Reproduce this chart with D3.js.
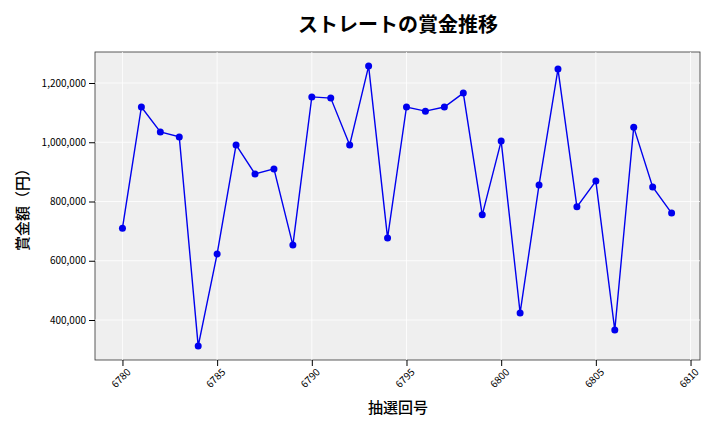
<!DOCTYPE html>
<html><head><meta charset="utf-8">
<script src="https://cdn.jsdelivr.net/npm/d3@7"></script>
<style>body{margin:0;background:#fff}text{font-family:"Noto Sans CJK JP","Noto Sans",sans-serif}</style>
</head><body><svg id="c" width="720" height="432"></svg>
<script>
const draws = d3.range(6780, 6810);
const prizes = [710000,1119000,1035000,1018000,312000,623000,991000,893000,910000,653000,
  1153000,1149000,991000,1257000,677000,1119000,1105000,1119000,1166000,755000,
  1004000,424000,856000,1247000,782000,869000,366000,1051000,849000,761000];
const xTicks = [6780,6785,6790,6795,6800,6805,6810];
const yTicks = [400000,600000,800000,1000000,1200000];

const m = {l:95, r:700, t:52, b:360};
const svg = d3.select("#c");
const x = d3.scaleLinear().domain([6778.55, 6810.5]).range([m.l, m.r]);
const y = d3.scaleLinear().domain([1200000, 400000]).range([83, 320]);

svg.append("rect").attr("x", m.l).attr("y", m.t).attr("width", m.r-m.l).attr("height", m.b-m.t)
  .attr("fill", "#efefef").attr("stroke", "#333").attr("stroke-width", 0.8);

const grid = svg.append("g").attr("stroke", "#fff").attr("stroke-width", 0.8);
xTicks.forEach(t => grid.append("line").attr("x1", x(t)).attr("x2", x(t)).attr("y1", m.t).attr("y2", m.b));
yTicks.forEach(t => grid.append("line").attr("x1", m.l).attr("x2", m.r).attr("y1", y(t)).attr("y2", y(t)));

const xa = svg.append("g").attr("transform", `translate(0,${m.b})`)
  .call(d3.axisBottom(x).tickValues(xTicks).tickFormat(d3.format("d")).tickSizeOuter(0));
xa.select(".domain").remove();
xa.selectAll("text").attr("font-size", 10).attr("text-anchor", "end")
  .attr("transform", "rotate(-45)").attr("dx", "-0.3em").attr("dy", "0.6em");

const ya = svg.append("g").attr("transform", `translate(${m.l},0)`)
  .call(d3.axisLeft(y).tickValues(yTicks).tickFormat(d3.format(",")).tickSizeOuter(0));
ya.select(".domain").remove();
ya.selectAll("text").attr("font-size", 10);

svg.append("path").datum(d3.zip(draws, prizes)).attr("fill", "none").attr("stroke", "#0000ee")
  .attr("stroke-width", 1.4).attr("d", d3.line().x(d => x(d[0])).y(d => y(d[1])));
svg.selectAll("circle.p").data(d3.zip(draws, prizes)).join("circle")
  .attr("cx", d => x(d[0])).attr("cy", d => y(d[1])).attr("r", 3.5).attr("fill", "#0000ee");

svg.append("text").attr("x", 398).attr("y", 32).attr("text-anchor", "middle")
  .attr("font-size", 20).attr("font-weight", "bold").text("ストレートの賞金推移");
svg.append("text").attr("x", 398).attr("y", 413).attr("text-anchor", "middle")
  .attr("font-size", 15).attr("font-weight", 500).text("抽選回号");
svg.append("text").attr("transform", "translate(28,206) rotate(-90)").attr("text-anchor", "middle")
  .attr("font-size", 15).attr("font-weight", 500).text("賞金額（円）");
</script></body></html>
